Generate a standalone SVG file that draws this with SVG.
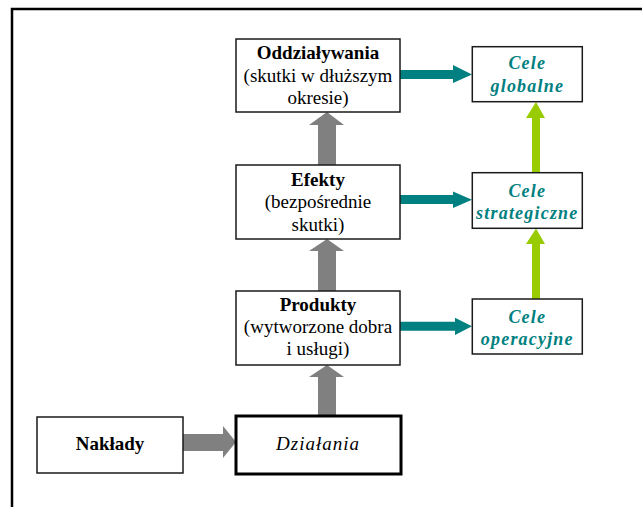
<svg xmlns="http://www.w3.org/2000/svg" width="642" height="507" viewBox="0 0 642 507">
<style>
.box{fill:#fff;stroke:#1a1a1a;stroke-width:1.5}
.t{font-family:"Liberation Serif","Times New Roman",serif;font-size:19px;fill:#000;text-anchor:middle}
.b{font-weight:bold}
.c{font-family:"Liberation Serif","Times New Roman",serif;font-size:18px;font-weight:bold;font-style:italic;fill:#008080;text-anchor:middle;letter-spacing:1.2px}
.gray{fill:#808080}
.teal{fill:#008080}
.green{fill:#99cc00}
</style>
<rect width="642" height="507" fill="#fff"/>
<path d="M12,507 V9 H642" fill="none" stroke="#000" stroke-width="2.5"/>
<g id="connectors">
  <polygon class="gray" points="183,434 223,434 223,426 236,442 223,458 223,451 183,451"/>
  <polygon class="gray" points="318,416 318,377 309,377 327,365 344,377 336,377 336,416"/>
  <polygon class="gray" points="318,291 318,251 309,251 327,239 344,251 336,251 336,291"/>
  <polygon class="gray" points="318,165 318,125 309,125 327,112 344,125 336,125 336,165"/>
  <polygon class="teal" points="400,70 453,70 453,65 472,74.5 453,83 453,79 400,79"/>
  <polygon class="teal" points="400,195 453,195 453,191.5 472,199.8 453,208 453,204 400,204"/>
  <polygon class="teal" points="400,321.7 455,321.7 455,317.7 472,326.3 455,335 455,330.7 400,330.7"/>
  <polygon class="green" points="532,299 532,244 526,244 536,228.5 545,244 540,244 540,299"/>
  <polygon class="green" points="532,172.7 532,118 526,118 536,102 545,118 540,118 540,172.7"/>
</g>
<g id="oddzialywania">
  <rect class="box" x="236" y="39" width="164" height="73"/>
  <text class="t b" x="318" y="58.5">Oddziaływania</text>
  <text class="t" x="318" y="81.5">(skutki w dłuższym</text>
  <text class="t" x="318" y="104">okresie)</text>
</g>
<g id="efekty">
  <rect class="box" x="236" y="165" width="164" height="74"/>
  <text class="t b" x="318" y="185.5">Efekty</text>
  <text class="t" x="318" y="208.3">(bezpośrednie</text>
  <text class="t" x="318" y="231">skutki)</text>
</g>
<g id="produkty">
  <rect class="box" x="236" y="291" width="164" height="74"/>
  <text class="t b" x="318" y="311">Produkty</text>
  <text class="t" x="318" y="333.3">(wytworzone dobra</text>
  <text class="t" x="318" y="355">i usługi)</text>
</g>
<g id="naklady">
  <rect class="box" x="37" y="417" width="146" height="56"/>
  <text class="t b" x="110" y="450" font-size="18.5">Nakłady</text>
</g>
<g id="dzialania">
  <rect x="236" y="416" width="165" height="58" fill="#fff" stroke="#000" stroke-width="3"/>
  <text class="t" x="318" y="450" font-size="18" font-style="italic" letter-spacing="1">Działania</text>
</g>
<g id="cele-globalne">
  <rect class="box" x="472.3" y="46.7" width="110" height="55"/>
  <text class="c" x="527.3" y="69.3">Cele</text>
  <text class="c" x="527.3" y="91.7">globalne</text>
</g>
<g id="cele-strategiczne">
  <rect class="box" x="472.3" y="172.7" width="110" height="55.6"/>
  <text class="c" x="527.3" y="196.7">Cele</text>
  <text class="c" x="527.3" y="219">strategiczne</text>
</g>
<g id="cele-operacyjne">
  <rect class="box" x="472.3" y="299" width="110" height="55"/>
  <text class="c" x="527.3" y="323.3">Cele</text>
  <text class="c" x="527.3" y="345">operacyjne</text>
</g>
</svg>
